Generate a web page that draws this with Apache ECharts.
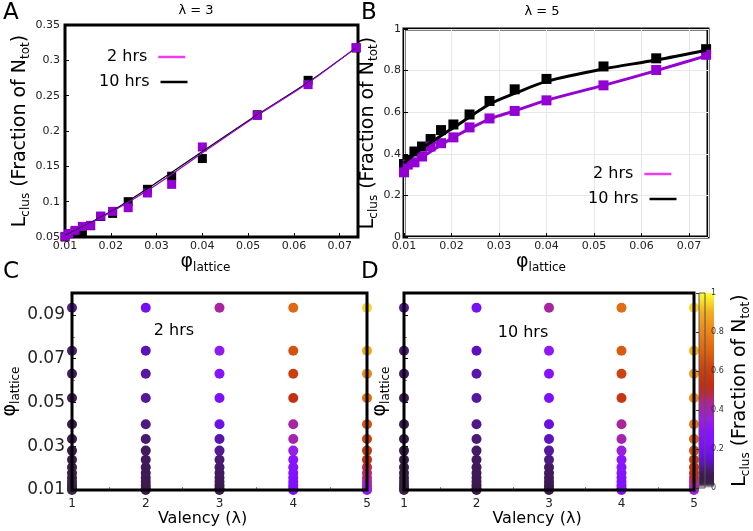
<!DOCTYPE html>
<html>
<head>
<meta charset="utf-8">
<script src="https://cdn.jsdelivr.net/npm/echarts@6/dist/echarts.min.js"></script>
<style>
    html, body { margin: 0; padding: 0; background: #fff; }
    #main { width: 753px; height: 531px; }
</style>
</head>
<body>
<div id="main"></div>
<script>
// phi values of the lattice for panels A and B
var phiAB = [0.01, 0.0108, 0.0122, 0.0138, 0.0156, 0.0178, 0.0204, 0.0238, 0.028, 0.0333, 0.04, 0.052, 0.0631, 0.0736];
// panel A, lambda = 3
var lam3Hrs2 = [0.051, 0.0547, 0.0594, 0.065, 0.0665, 0.0797, 0.0863, 0.0915, 0.1123, 0.1245, 0.1774, 0.222, 0.2656, 0.318];
var lam3Hrs10 = [0.05, 0.0548, 0.058, 0.057, 0.066, 0.079, 0.0834, 0.1, 0.1175, 0.136, 0.161, 0.223, 0.2717, 0.3175];
var fitPhiA = [0.01, 0.02, 0.03, 0.04, 0.052, 0.0631, 0.0736];
var fitA2 = [0.051, 0.085, 0.124, 0.169, 0.222, 0.268, 0.318];
var fitA10 = [0.052, 0.086, 0.127, 0.171, 0.223, 0.269, 0.318];
// panel B, lambda = 5
var lam5Hrs2 = [0.311, 0.348, 0.359, 0.387, 0.435, 0.451, 0.479, 0.527, 0.57, 0.606, 0.657, 0.729, 0.803, 0.876];
var lam5Hrs10 = [0.351, 0.371, 0.411, 0.435, 0.471, 0.514, 0.541, 0.589, 0.654, 0.71, 0.76, 0.82, 0.859, 0.903];
var fitPhiB = [0.01, 0.0108, 0.0138, 0.0204, 0.028, 0.0333, 0.04, 0.052, 0.0631, 0.0736];
var fitB2 = [0.316, 0.34, 0.384, 0.479, 0.567, 0.606, 0.657, 0.729, 0.8, 0.871];
var fitB10 = [0.355, 0.371, 0.427, 0.525, 0.638, 0.69, 0.748, 0.808, 0.851, 0.898];

// panels C and D
var valency = [1, 2, 3, 4, 5];
var phiCD = [0.01, 0.0108, 0.0122, 0.0138, 0.0156, 0.0178, 0.0204, 0.0238, 0.028, 0.0333, 0.04, 0.052, 0.0631, 0.0736, 0.0933];
var clus2V1 = [0.03, 0.03, 0.032, 0.034, 0.036, 0.038, 0.04, 0.044, 0.05, 0.055, 0.06, 0.075, 0.085, 0.095, 0.11];
var clus2V2 = [0.05, 0.052, 0.055, 0.058, 0.062, 0.066, 0.07, 0.075, 0.08, 0.09, 0.1, 0.115, 0.12, 0.13, 0.19];
var clus2V3 = [0.051, 0.0547, 0.0594, 0.065, 0.0665, 0.0797, 0.0863, 0.0915, 0.1123, 0.1245, 0.1774, 0.222, 0.2656, 0.318, 0.42];
var clus2V4 = [0.21, 0.22, 0.23, 0.24, 0.25, 0.26, 0.27, 0.29, 0.34, 0.4, 0.42, 0.54, 0.6, 0.66, 0.72];
var clus2V5 = [0.311, 0.348, 0.359, 0.387, 0.435, 0.451, 0.479, 0.527, 0.57, 0.606, 0.657, 0.729, 0.803, 0.876, 0.95];
var clus10V1 = [0.03, 0.032, 0.034, 0.036, 0.038, 0.04, 0.043, 0.047, 0.052, 0.058, 0.065, 0.078, 0.088, 0.098, 0.115];
var clus10V2 = [0.05, 0.053, 0.056, 0.06, 0.064, 0.068, 0.072, 0.078, 0.085, 0.095, 0.105, 0.12, 0.125, 0.135, 0.2];
var clus10V3 = [0.05, 0.0548, 0.058, 0.057, 0.066, 0.079, 0.0834, 0.1, 0.1175, 0.136, 0.161, 0.223, 0.2717, 0.3175, 0.42];
var clus10V4 = [0.21, 0.22, 0.23, 0.24, 0.25, 0.26, 0.28, 0.3, 0.35, 0.4, 0.43, 0.56, 0.62, 0.68, 0.73];
var clus10V5 = [0.351, 0.371, 0.411, 0.435, 0.471, 0.514, 0.541, 0.589, 0.654, 0.71, 0.76, 0.82, 0.859, 0.903, 0.95];

var FONT = 'DejaVu Sans';
var PURPLE = '#9400d3';

// colour ramp of the colour bar
var rampStops = [
    [0, '#ffffff'], [0.015, '#3a2a42'], [0.05, '#3a1a4c'], [0.08, '#421a5e'], [0.11, '#521a90'],
    [0.14, '#6010c8'], [0.18, '#7010ee'], [0.23, '#8010ff'], [0.3, '#8c14ff'], [0.35, '#9a20e0'],
    [0.4, '#a424b0'], [0.44, '#aa2890'], [0.48, '#b82a40'], [0.53, '#c03010'], [0.62, '#cc4410'],
    [0.72, '#de6a12'], [0.82, '#ec8c1c'], [0.9, '#f2ae20'], [1, '#ffff30']
];
function hexRgb(c) {
    return [parseInt(c.substr(1, 2), 16), parseInt(c.substr(3, 2), 16), parseInt(c.substr(5, 2), 16)];
}
var palette = [];
for (var i = 0; i <= 200; i++) {
    var t = i / 200, k = 0;
    while (k < rampStops.length - 2 && t > rampStops[k + 1][0]) k++;
    var a = rampStops[k], b = rampStops[k + 1];
    var f = (t - a[0]) / (b[0] - a[0]);
    var ca = hexRgb(a[1]), cb = hexRgb(b[1]);
    palette.push('rgb(' + ca.map(function (v, j) { return Math.round(v + (cb[j] - v) * f); }).join(',') + ')');
}

function pairs(xs, ys) {
    return xs.map(function (x, i) { return [x, ys[i]]; });
}
function cells(cols) {
    var out = [];
    valency.forEach(function (v, i) {
        phiCD.forEach(function (p, j) { out.push([v, p, cols[i][j]]); });
    });
    return out;
}
function trim(v) { return String(+v.toFixed(2)); }

var rich = {
    m: { fontFamily: FONT, fontSize: 19, color: '#000' },
    s: { fontFamily: FONT, fontSize: 12, color: '#000', padding: [11, 0, 0, 0] }
};
var lclusName = '{m|L}{s|clus}{m| (Fraction of N}{s|tot}{m|)}';
var phiName = '{m|φ}{s|lattice}';

function valueAxis(o) {
    var ax = {
        type: 'value',
        gridIndex: o.grid,
        min: o.min, max: o.max, interval: o.interval,
        axisLine: { show: false },
        axisTick: { inside: true, length: 4, lineStyle: { color: '#000' } },
        minorTick: { show: !!o.minor, splitNumber: 2, length: 3, lineStyle: { color: '#888' } },
        splitLine: { show: !!o.split, lineStyle: { color: '#e8e8e8', width: 1 } },
        axisLabel: {
            show: o.labels !== false,
            fontFamily: FONT, fontSize: o.fontSize || 11, color: '#222', margin: o.margin || 5,
            showMaxLabel: o.showMax !== false,
            formatter: o.fmt || trim
        }
    };
    if (o.name) {
        ax.name = o.name;
        ax.nameLocation = 'middle';
        ax.nameGap = o.nameGap;
        if (o.rotate) ax.nameRotate = 90;
        ax.nameTextStyle = { fontFamily: FONT, fontSize: 19, rich: o.rich || rich, padding: o.namePad || 0 };
    }
    return ax;
}
var valRich = { v: { fontFamily: FONT, fontSize: 16, color: '#000' } };

var chart = echarts.init(document.getElementById('main'));
var option = {
    animation: false,
    backgroundColor: '#fff',
    grid: [
        { left: 65, top: 25, width: 293, height: 212, show: true, borderColor: '#000', borderWidth: 3, z: 0 },
        { left: 404, top: 29, width: 304, height: 208, show: true, borderColor: '#000', borderWidth: 3, z: 0 },
        { left: 67, top: 293, width: 300, height: 197, show: true, borderColor: '#000', borderWidth: 3, z: 10 },
        { left: 404, top: 293, width: 290, height: 197, show: true, borderColor: '#000', borderWidth: 3, z: 10 },
        { left: 699, top: 293, width: 15, height: 195, show: true, borderColor: '#555', borderWidth: 1, z: 10 }
    ],
    xAxis: [
        valueAxis({ grid: 0, min: 0.01, max: 0.074, interval: 0.01, showMax: false, margin: 4,
            fmt: function (v) { return v.toFixed(2); }, name: phiName, nameGap: 14, namePad: [0, 12, 0, 0] }),
        valueAxis({ grid: 1, min: 0.01, max: 0.074, interval: 0.01, showMax: false, margin: 4, split: true,
            fmt: function (v) { return v.toFixed(2); }, name: phiName, nameGap: 14, namePad: [0, 30, 0, 0] }),
        valueAxis({ grid: 2, min: 1, max: 5, interval: 1, minor: true, fontSize: 12, margin: 8,
            name: '{v|Valency (λ)}', rich: valRich, nameGap: 21, namePad: [0, 34, 0, 0] }),
        valueAxis({ grid: 3, min: 1, max: 5, interval: 1, minor: true, fontSize: 12, margin: 8,
            name: '{v|Valency (λ)}', rich: valRich, nameGap: 21, namePad: [0, 24, 0, 0] }),
        { type: 'value', gridIndex: 4, min: 0, max: 1, show: false }
    ],
    yAxis: [
        valueAxis({ grid: 0, min: 0.05, max: 0.35, interval: 0.05, margin: 5,
            name: lclusName, rotate: true, nameGap: 28 }),
        valueAxis({ grid: 1, min: 0, max: 1, interval: 0.2, margin: 3, split: true,
            name: lclusName, rotate: true, nameGap: 18 }),
        valueAxis({ grid: 2, min: 0.01, max: 0.1, interval: 0.02, showMax: false, minor: true, fontSize: 17, margin: 7,
            name: phiName, rotate: true, nameGap: 50 }),
        valueAxis({ grid: 3, min: 0.01, max: 0.1, interval: 0.02, showMax: false, minor: true, labels: false,
            name: phiName, rotate: true, nameGap: 12 }),
        {
            type: 'value', gridIndex: 4, min: 0, max: 1, interval: 0.2, position: 'right', z: 10,
            axisLine: { show: false },
            axisTick: { inside: true, length: 3, lineStyle: { color: '#333' } },
            splitLine: { show: false },
            axisLabel: { fontFamily: FONT, fontSize: 8, color: '#333', margin: 6, formatter: trim },
            name: lclusName, nameLocation: 'middle', nameRotate: 90, nameGap: 24,
            nameTextStyle: { fontFamily: FONT, fontSize: 19, rich: rich }
        }
    ],
    visualMap: {
        type: 'continuous', min: 0, max: 1, dimension: 2, seriesIndex: [8, 9],
        calculable: false, hoverLink: false, padding: 0,
        left: 699, top: 293, itemWidth: 15, itemHeight: 195,
        inRange: { color: palette },
        controller: { inRange: { color: palette, opacity: 1 } }
    },
    legend: [
        { data: [{ name: '2 hrs', itemStyle: { color: '#ee3cee' } }], left: 107, top: 49 },
        { data: [{ name: '10 hrs', itemStyle: { color: '#000' } }], left: 99, top: 74 },
        { data: [{ name: '2 hrs', itemStyle: { color: '#ee3cee' } }], left: 593, top: 166 },
        { data: [{ name: '10 hrs', itemStyle: { color: '#000' } }], left: 588, top: 191 }
    ].map(function (l) {
        l.icon = 'rect';
        l.align = 'right';
        l.itemWidth = 27;
        l.itemHeight = 2.5;
        l.padding = 0;
        l.selectedMode = false;
        l.textStyle = { fontFamily: FONT, fontSize: 16, color: '#000', padding: [0, 6, 0, 0] };
        return l;
    }),
    graphic: [
        { type: 'text', x: 3, y: 2, style: { text: 'A', font: '23px "DejaVu Sans"', fill: '#000' } },
        { type: 'text', x: 361, y: 2, style: { text: 'B', font: '23px "DejaVu Sans"', fill: '#000' } },
        { type: 'text', x: 3, y: 261, style: { text: 'C', font: '23px "DejaVu Sans"', fill: '#000' } },
        { type: 'text', x: 361, y: 261, style: { text: 'D', font: '23px "DejaVu Sans"', fill: '#000' } },
        { type: 'text', x: 196, y: 11, style: { text: 'λ = 3', font: '13px "DejaVu Sans"', fill: '#000', align: 'center', verticalAlign: 'middle' } },
        { type: 'text', x: 542, y: 12, style: { text: 'λ = 5', font: '13px "DejaVu Sans"', fill: '#000', align: 'center', verticalAlign: 'middle' } },
        { type: 'text', x: 174, y: 331, style: { text: '2 hrs', font: '16px "DejaVu Sans"', fill: '#000', align: 'center', verticalAlign: 'middle' } },
        { type: 'text', x: 523, y: 333, style: { text: '10 hrs', font: '16px "DejaVu Sans"', fill: '#000', align: 'center', verticalAlign: 'middle' } }
    ],
    series: [
        { name: '10 hrs', type: 'line', xAxisIndex: 0, yAxisIndex: 0, data: pairs(fitPhiA, fitA10), showSymbol: false, smooth: 0.3,
            lineStyle: { color: '#000', width: 1.2 }, itemStyle: { color: '#000' } },
        { name: '2 hrs', type: 'line', xAxisIndex: 0, yAxisIndex: 0, data: pairs(fitPhiA, fitA2), showSymbol: false, smooth: 0.3,
            lineStyle: { color: PURPLE, width: 1.2 }, itemStyle: { color: PURPLE } },
        { name: '10 hrs', type: 'scatter', xAxisIndex: 0, yAxisIndex: 0, data: pairs(phiAB, lam3Hrs10), symbol: 'rect', symbolSize: 9,
            itemStyle: { color: '#000', opacity: 1 }, clip: false },
        { name: '2 hrs', type: 'scatter', xAxisIndex: 0, yAxisIndex: 0, data: pairs(phiAB, lam3Hrs2), symbol: 'rect', symbolSize: 9,
            itemStyle: { color: PURPLE, opacity: 1 }, clip: false },
        { name: '10 hrs', type: 'line', xAxisIndex: 1, yAxisIndex: 1, data: pairs(fitPhiB, fitB10), showSymbol: false, smooth: 0.3,
            lineStyle: { color: '#000', width: 3 }, itemStyle: { color: '#000' } },
        { name: '2 hrs', type: 'line', xAxisIndex: 1, yAxisIndex: 1, data: pairs(fitPhiB, fitB2), showSymbol: false, smooth: 0.3,
            lineStyle: { color: PURPLE, width: 3 }, itemStyle: { color: PURPLE } },
        { name: '10 hrs', type: 'scatter', xAxisIndex: 1, yAxisIndex: 1, data: pairs(phiAB, lam5Hrs10), symbol: 'rect', symbolSize: 10,
            itemStyle: { color: '#000', opacity: 1 }, clip: false },
        { name: '2 hrs', type: 'scatter', xAxisIndex: 1, yAxisIndex: 1, data: pairs(phiAB, lam5Hrs2), symbol: 'rect', symbolSize: 10,
            itemStyle: { color: PURPLE, opacity: 1 }, clip: false },
        { name: 'C', type: 'scatter', xAxisIndex: 2, yAxisIndex: 2, symbolSize: 10, clip: false,
            itemStyle: { opacity: 1 }, data: cells([clus2V1, clus2V2, clus2V3, clus2V4, clus2V5]) },
        { name: 'D', type: 'scatter', xAxisIndex: 3, yAxisIndex: 3, symbolSize: 10, clip: false,
            itemStyle: { opacity: 1 }, data: cells([clus10V1, clus10V2, clus10V3, clus10V4, clus10V5]) }
    ]
};
chart.setOption(option);
</script>
</body>
</html>
